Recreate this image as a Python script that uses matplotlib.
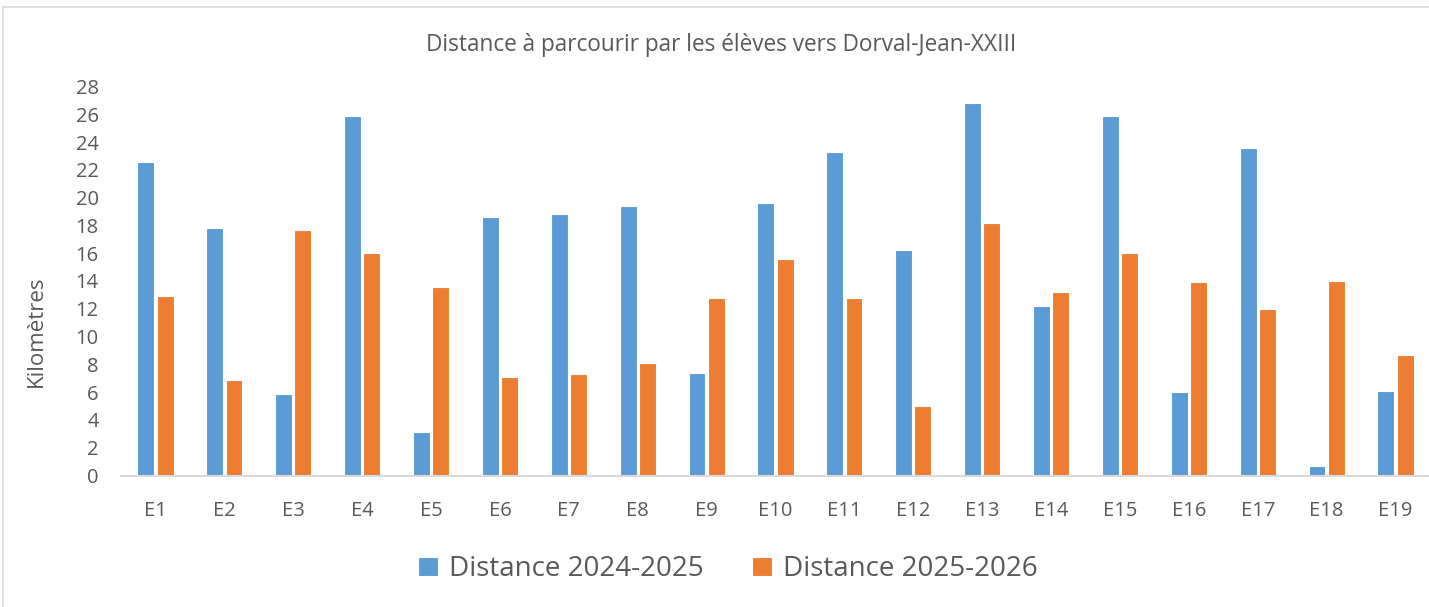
import matplotlib
matplotlib.use("Agg")
import matplotlib.pyplot as plt
import numpy as np
from matplotlib.patches import Rectangle

categories = ["E1", "E2", "E3", "E4", "E5", "E6", "E7", "E8", "E9", "E10",
              "E11", "E12", "E13", "E14", "E15", "E16", "E17", "E18", "E19"]
dist_2024_2025 = [22.6, 17.8, 5.9, 25.9, 3.1, 18.6, 18.8, 19.4, 7.4, 19.6,
                  23.3, 16.2, 26.8, 12.2, 25.9, 6.0, 23.6, 0.7, 6.1]
dist_2025_2026 = [12.9, 6.9, 17.7, 16.0, 13.6, 7.1, 7.3, 8.1, 12.8, 15.6,
                  12.8, 5.0, 18.2, 13.2, 16.0, 13.9, 12.0, 14.0, 8.7]
series_names = ["Distance 2024-2025", "Distance 2025-2026"]
yticks = list(range(0, 29, 2))
title = "Distance à parcourir par les élèves vers Dorval-Jean-XXIII"
ylabel = "Kilomètres"

plt.rcParams['font.family'] = ['Open Sans', 'DejaVu Sans']
TXT = "#595959"
BLUE = "#5B9BD5"
ORANGE = "#ED7D31"

fig = plt.figure(figsize=(14.29, 6.07), dpi=100)
ax = fig.add_axes([121/1429, 131.5/607, (1430-121)/1429, (475.5-86.5)/607])

x = np.arange(len(categories))
w = 0.245
off = 0.14
ax.bar(x - off, dist_2024_2025, w, color=BLUE, edgecolor="white", linewidth=0.8, label=series_names[0], zorder=2)
ax.bar(x + off, dist_2025_2026, w, color=ORANGE, edgecolor="white", linewidth=0.8, label=series_names[1], zorder=2)

ax.set_xlim(-0.5, len(categories) - 0.5)
ax.set_ylim(0, 28)
ax.set_yticks(yticks)
ax.set_xticks(x)
ax.set_xticklabels(categories)
for s in ["top", "right", "left"]:
    ax.spines[s].set_visible(False)
ax.spines["bottom"].set_color("#D9D9D9")
ax.spines["bottom"].set_linewidth(1.5)
ax.tick_params(axis="both", length=0, labelsize=14.5, colors=TXT)
ax.tick_params(axis="x", pad=18)
ax.tick_params(axis="y", pad=16)

ax.set_ylabel(ylabel, fontsize=16, color=TXT)
ax.yaxis.set_label_coords(-74/1309, 0.37)

fig.text(721/1429, 1 - 45/607, title, ha="center", va="center", fontsize=16.3, color=TXT)

fig.legend(loc="center", bbox_to_anchor=(728/1429, 1 - 569/607), ncol=2, frameon=False,
           fontsize=20, labelcolor=TXT, handlelength=0.7, handleheight=0.7,
           handletextpad=0.4, columnspacing=1.75)

fig.patches.append(Rectangle((3/1429, -0.01), 1.02, 1 - 7/607 + 0.01, transform=fig.transFigure,
                             fill=False, edgecolor="#D9D9D9", linewidth=1.2))

fig.savefig("out.png", dpi=100)
